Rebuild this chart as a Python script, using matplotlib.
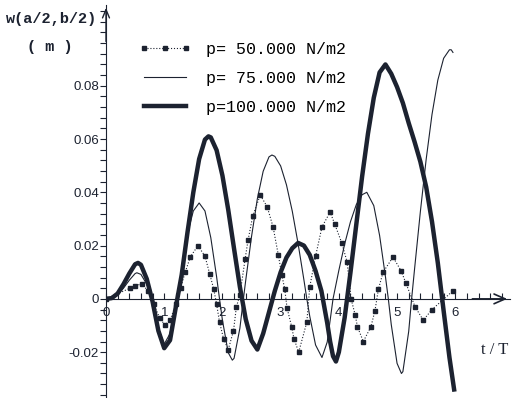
import matplotlib.pyplot as plt
from matplotlib.ticker import MultipleLocator, FixedLocator

# p = 100 N/m2 (thick line)
t_100 = [0.0, 0.1, 0.2, 0.3, 0.4, 0.5, 0.55, 0.6, 0.7, 0.8, 0.9, 1.0, 1.1, 1.2,
         1.3, 1.4, 1.5, 1.6, 1.7, 1.76, 1.8, 1.9, 2.0, 2.1, 2.2, 2.3, 2.4, 2.5,
         2.6, 2.7, 2.8, 2.9, 3.0, 3.1, 3.2, 3.3, 3.4, 3.5, 3.6, 3.7, 3.8, 3.85,
         3.9, 3.95, 4.0, 4.1, 4.2, 4.3, 4.4, 4.5, 4.6, 4.7, 4.8, 4.9, 5.0, 5.1,
         5.2, 5.3, 5.4, 5.5, 5.6, 5.7, 5.8, 5.9, 5.98]
w_100 = [0.0, 0.0003, 0.002, 0.0055, 0.0095, 0.013, 0.0135, 0.0128, 0.0075,
         -0.001, -0.012, -0.0185, -0.0155, -0.003, 0.009, 0.025, 0.040, 0.0525,
         0.0598, 0.061, 0.0606, 0.0558, 0.0463, 0.0334, 0.0188, 0.0045, -0.0076,
         -0.0157, -0.019, -0.013, -0.005, 0.003, 0.010, 0.0155, 0.019, 0.021,
         0.020, 0.0165, 0.0105, 0.003, -0.009, -0.016, -0.0215, -0.0235, -0.020,
         -0.007, 0.010, 0.028, 0.046, 0.062, 0.0755, 0.085, 0.088, 0.0845,
         0.0795, 0.0735, 0.066, 0.059, 0.0515, 0.042, 0.029, 0.0135, -0.0045,
         -0.022, -0.034]

# p = 75 N/m2 (thin line)
t_75 = [0.0, 0.1, 0.2, 0.3, 0.4, 0.5, 0.53, 0.6, 0.7, 0.8, 0.9, 1.0, 1.1, 1.2,
        1.3, 1.4, 1.5, 1.6, 1.7, 1.8, 1.9, 1.95, 2.0, 2.1, 2.17, 2.2, 2.3, 2.36,
        2.4, 2.5, 2.6, 2.7, 2.8, 2.85, 2.9, 3.0, 3.1, 3.2, 3.3, 3.4, 3.45, 3.5,
        3.6, 3.71, 3.8, 3.9, 4.0, 4.1, 4.2, 4.3, 4.4, 4.48, 4.6, 4.7, 4.8, 4.85,
        4.9, 5.0, 5.075, 5.1, 5.2, 5.25, 5.3, 5.4, 5.5, 5.6, 5.7, 5.8, 5.9,
        5.93, 5.96]
w_75 = [0.0, 0.0002, 0.0015, 0.004, 0.007, 0.0095, 0.0098, 0.0092, 0.0055, 0.0,
        -0.011, -0.017, -0.013, -0.001, 0.0095, 0.0245, 0.033, 0.036, 0.033,
        0.023, 0.0083, 0.0, -0.008, -0.0202, -0.023, -0.0223, -0.011, 0.0,
        0.0069, 0.0234, 0.0376, 0.0479, 0.0533, 0.054, 0.0535, 0.0499, 0.0428,
        0.0329, 0.0207, 0.0071, 0.0, -0.0065, -0.0173, -0.022, -0.0162, 0.0,
        0.0107, 0.0206, 0.029, 0.0354, 0.0391, 0.040, 0.035, 0.0238, 0.0084,
        0.0, -0.0096, -0.0242, -0.028, -0.0273, -0.0122, 0.0, 0.0111, 0.0327,
        0.0524, 0.0692, 0.0821, 0.0903, 0.0935, 0.0935, 0.0925]

# p = 50 N/m2 (dotted line with square markers)
t_50 = [0.0, 0.41, 0.5, 0.62, 0.72, 0.82, 0.92, 1.01, 1.1, 1.2,
        1.28, 1.36, 1.45, 1.58, 1.7, 1.78, 1.85, 1.9, 1.95, 2.02, 2.1, 2.19,
        2.24, 2.3, 2.39, 2.44, 2.52, 2.65, 2.77, 2.87, 2.96, 3.02, 3.07, 3.11,
        3.19, 3.23, 3.31, 3.45, 3.5, 3.6, 3.71, 3.85, 3.93, 4.05, 4.14, 4.21,
        4.28, 4.32, 4.42, 4.55, 4.62, 4.68, 4.76, 4.93, 5.07, 5.15, 5.31, 5.45,
        5.6, 5.96]
w_50 = [0.0, 0.004, 0.005, 0.0056, 0.003, -0.002,
        -0.007, -0.0098, -0.008, -0.002, 0.004, 0.010, 0.0158, 0.020, 0.016,
        0.0095, 0.0037, -0.002, -0.0087, -0.015, -0.019, -0.012, -0.003, 0.0015,
        0.015, 0.022, 0.031, 0.039, 0.0345, 0.027, 0.0165, 0.009, 0.0037,
        -0.0034, -0.0105, -0.015, -0.020, -0.0087, 0.0045, 0.016, 0.027, 0.0326,
        0.028, 0.021, 0.014, 0.0, -0.006, -0.0105, -0.016, -0.0105, -0.0045,
        0.0037, 0.010, 0.0157, 0.0105, 0.006, -0.003, -0.008, -0.004, 0.003]

y_ticks = [-0.02, 0.0, 0.02, 0.04, 0.06, 0.08]
y_labels = ["-0.02", "0", "0.02", "0.04", "0.06", "0.08"]
x_ticks = [0, 1, 2, 3, 4, 5, 6]

ink = "#1c2230"

fig = plt.figure(figsize=(5.25, 3.98), dpi=100)
ax = fig.add_axes([106 / 525, 0, 404 / 525, 393 / 398])
ax.set_xlim(0, 6.94)
ax.set_ylim(-0.0372, 0.1103)

ax.plot(t_75, w_75, color=ink, lw=0.8, label="p= 75.000 N/m2")
ax.plot(t_50, w_50, color=ink, lw=0.8, ls=":", marker="s", ms=3.5,
        label="p= 50.000 N/m2")
ax.plot(t_100, w_100, color=ink, lw=3.2, label="p=100.000 N/m2")

# axes through the origin
for s in ["top", "right"]:
    ax.spines[s].set_visible(False)
ax.spines["left"].set_position(("data", 0))
ax.spines["bottom"].set_position(("data", 0))
ax.spines["left"].set_color(ink)
ax.spines["bottom"].set_color(ink)

ax.annotate("", xy=(1.0, 0), xycoords=("axes fraction", "data"),
            xytext=(0.9, 0), textcoords=("axes fraction", "data"),
            arrowprops=dict(arrowstyle="->,head_length=0.8,head_width=0.35",
                            color=ink, lw=1.2))
ax.annotate("", xy=(0, 1.0), xycoords=("data", "axes fraction"),
            xytext=(0, 0.9), textcoords=("data", "axes fraction"),
            arrowprops=dict(arrowstyle="->,head_length=0.6,head_width=0.25",
                            color=ink, lw=1.0))

ax.yaxis.set_major_locator(FixedLocator(y_ticks))
ax.set_yticklabels(y_labels)
ax.yaxis.set_minor_locator(MultipleLocator(0.004))
ax.xaxis.set_major_locator(FixedLocator(x_ticks))
ax.xaxis.set_minor_locator(MultipleLocator(0.2))
ax.tick_params(axis="y", which="both", direction="out", length=4, width=0.8,
               pad=1, colors=ink, labelsize=9.5)
ax.tick_params(axis="x", which="both", direction="in", length=4, width=0.8,
               pad=6, colors=ink, labelsize=9.5)
for lab in ax.get_xticklabels() + ax.get_yticklabels():
    lab.set_family("Liberation Sans")

handles, labels = ax.get_legend_handles_labels()
order = [1, 0, 2]
ax.legend([handles[i] for i in order], [labels[i] for i in order],
          loc="upper left", bbox_to_anchor=(0.045, 0.945), frameon=False,
          numpoints=3, handlelength=3.1, handletextpad=0.9, labelspacing=0.85,
          prop={"family": "Liberation Mono", "size": 12})

fig.text(52 / 525, 1 - 19 / 398, "w(a/2,b/2)", ha="center", va="center",
         family="Liberation Mono", weight="bold", size=11, color=ink)
fig.text(50 / 525, 1 - 47 / 398, "( m )", ha="center", va="center",
         family="Liberation Mono", weight="bold", size=11, color=ink)
fig.text(495 / 525, 1 - 350 / 398, "t / T", ha="center", va="center",
         family="Liberation Serif", size=12, color=ink)

fig.savefig("out.png", dpi=100, facecolor="white")
